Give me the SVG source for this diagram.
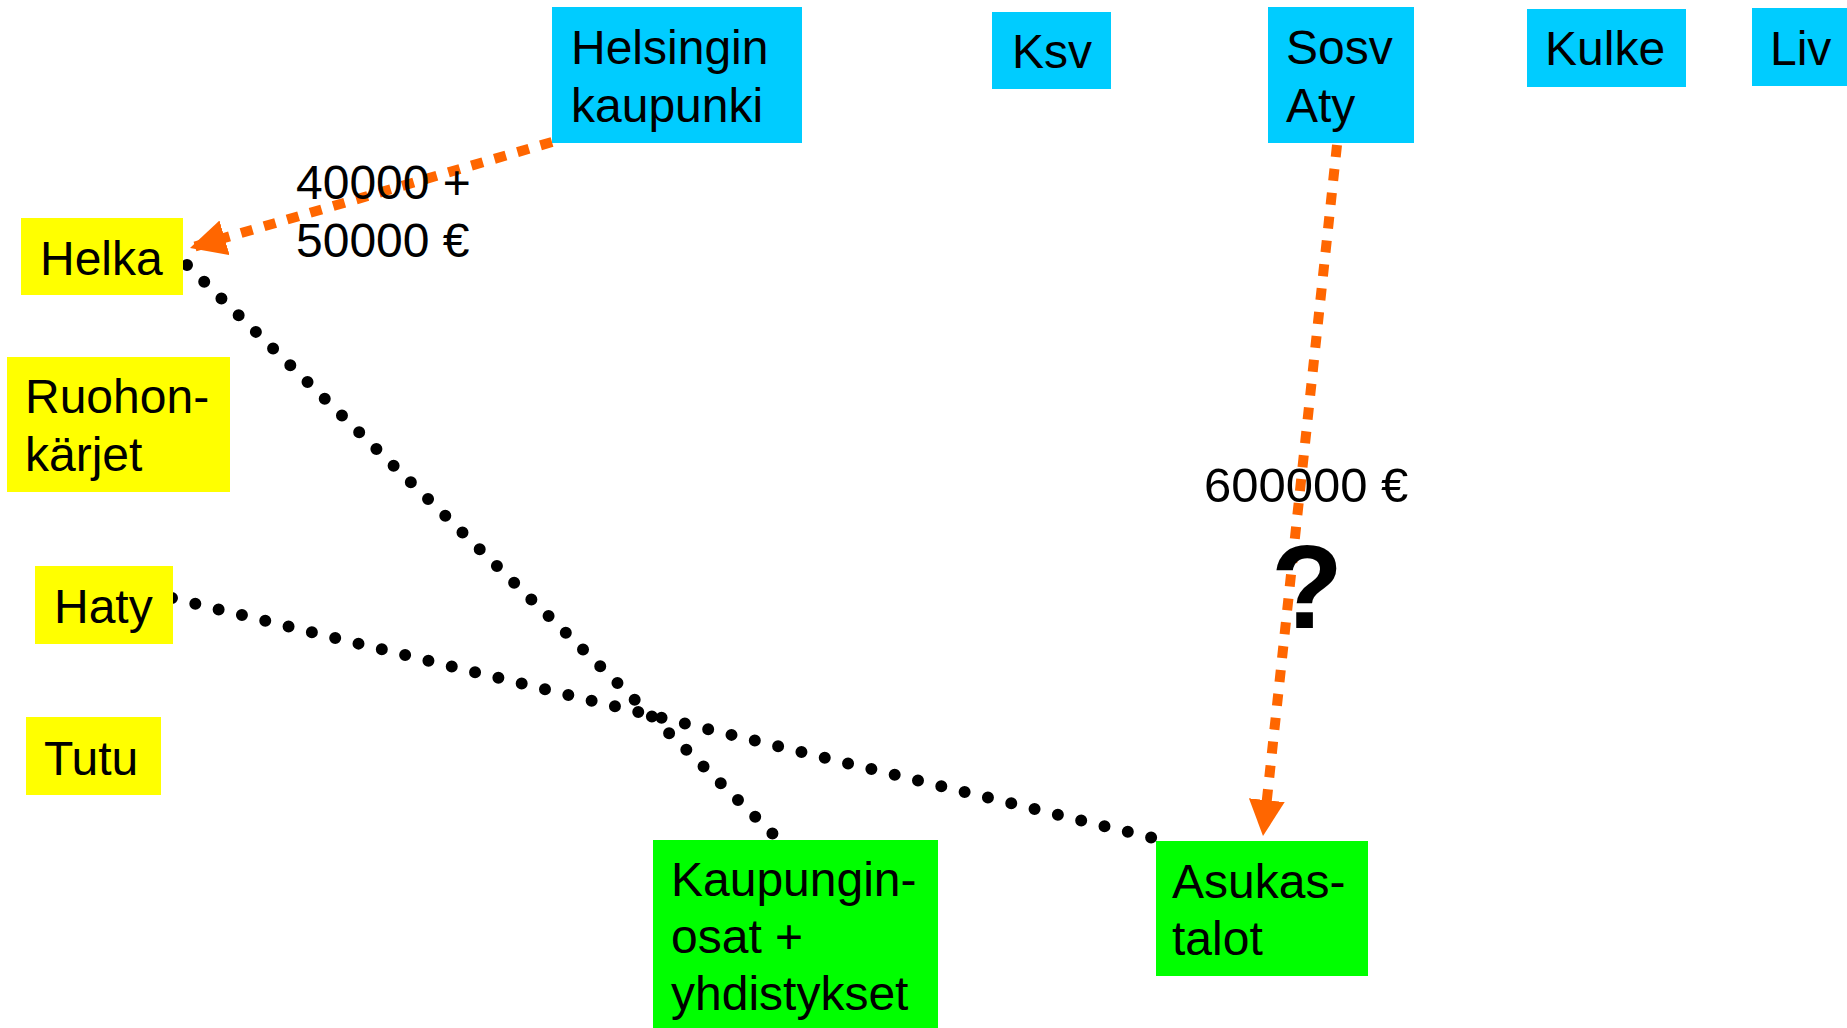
<svg xmlns="http://www.w3.org/2000/svg" width="1847" height="1028" viewBox="0 0 1847 1028">
<style>
.t{font-family:"Liberation Sans",Arial,sans-serif;font-size:48px;fill:#000}
.q{font-family:"Liberation Sans",Arial,sans-serif;font-size:118px;font-weight:bold;fill:#000}
.blue{fill:#00CCFF}
.yel{fill:#FFFF00}
.grn{fill:#00FF00}
.money{fill:none;stroke:#FF6600;stroke-width:10;stroke-dasharray:12 12}
.dots{fill:none;stroke:#000;stroke-width:12;stroke-linecap:round;stroke-dasharray:0 24}
</style>
<defs>
<marker id="ah" markerUnits="userSpaceOnUse" markerWidth="40" markerHeight="40" refX="36" refY="18" orient="auto">
<path d="M0,0 L36,18 L0,36 z" fill="#FF6600"/>
</marker>
</defs>
<rect width="1847" height="1028" fill="#fff"/>
<g id="connectors">
<line class="money" x1="552" y1="142" x2="190" y2="248" marker-end="url(#ah)"/>
<line class="money" x1="1337" y1="145" x2="1263" y2="836" marker-end="url(#ah)"/>
<line class="dots" x1="187" y1="265" x2="774" y2="835"/>
<line class="dots" x1="172" y1="598" x2="1153" y2="838"/>
</g>
<g id="helsinki"><rect class="blue" x="552" y="7" width="250" height="136"/><text class="t" x="571" y="64">Helsingin</text><text class="t" x="571" y="122">kaupunki</text></g>
<g id="ksv"><rect class="blue" x="992" y="12" width="119" height="77"/><text class="t" x="1012" y="68">Ksv</text></g>
<g id="sosv"><rect class="blue" x="1268" y="7" width="146" height="136"/><text class="t" x="1286" y="64">Sosv</text><text class="t" x="1286" y="122">Aty</text></g>
<g id="kulke"><rect class="blue" x="1527" y="9" width="159" height="78"/><text class="t" x="1545" y="65">Kulke</text></g>
<g id="liv"><rect class="blue" x="1752" y="8" width="95" height="78"/><text class="t" x="1770" y="65">Liv</text></g>
<g id="helka"><rect class="yel" x="21" y="218" width="162" height="77"/><text class="t" x="40" y="275">Helka</text></g>
<g id="ruohonkarjet"><rect class="yel" x="7" y="357" width="223" height="135"/><text class="t" x="25" y="413">Ruohon-</text><text class="t" x="25" y="471">kärjet</text></g>
<g id="haty"><rect class="yel" x="35" y="566" width="138" height="78"/><text class="t" x="54" y="623">Haty</text></g>
<g id="tutu"><rect class="yel" x="26" y="717" width="135" height="78"/><text class="t" x="44" y="775">Tutu</text></g>
<g id="kaupunginosat"><rect class="grn" x="653" y="840" width="285" height="188"/><text class="t" x="671" y="896">Kaupungin-</text><text class="t" x="671" y="953">osat +</text><text class="t" x="671" y="1010">yhdistykset</text></g>
<g id="asukastalot"><rect class="grn" x="1156" y="841" width="212" height="135"/><text class="t" x="1172" y="898">Asukas-</text><text class="t" x="1172" y="955">talot</text></g>
<g id="labels">
<text class="t" x="296" y="199">40000 +</text>
<text class="t" x="296" y="257">50000 €</text>
<text class="t" x="1204" y="502" style="font-size:49px">600000 €</text>
<text class="q" x="1271" y="628">?</text>
</g>
</svg>
